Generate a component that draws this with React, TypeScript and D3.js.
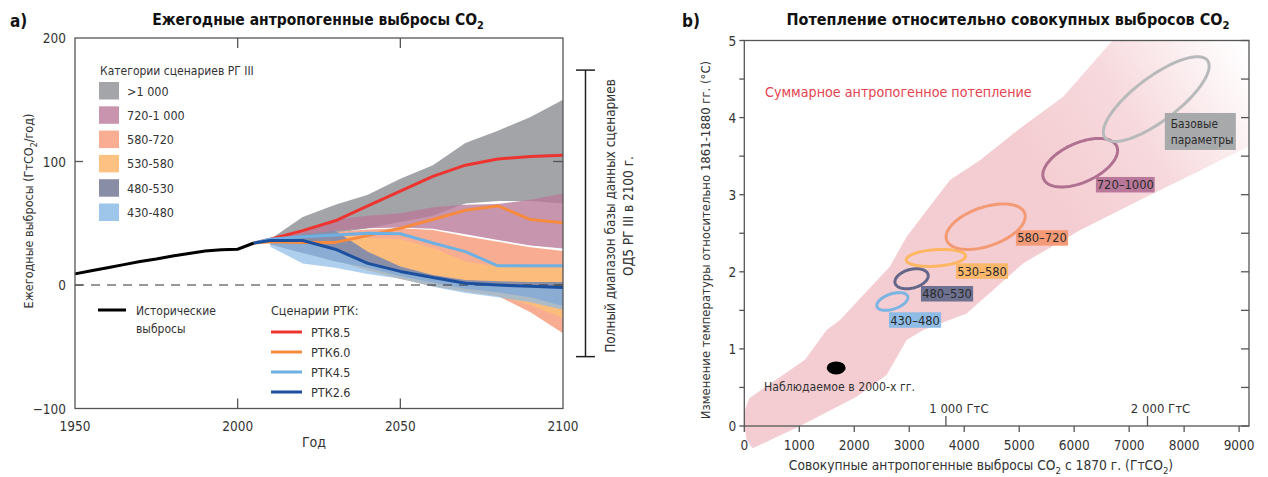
import React from "react";
import * as d3 from "d3";

const FONT = '"Liberation Sans Narrow", "DejaVu Sans Condensed", "Roboto Condensed", "Open Sans", Roboto, sans-serif';

// ---------- Panel a data ----------
const historyYears = [1950, 1955, 1960, 1965, 1970, 1975, 1980, 1985, 1990, 1995, 2000, 2005];
const historyValues = [9, 11.5, 14, 16.5, 19, 21, 23.5, 25.5, 27.5, 28.5, 29, 34];

const rcpYears = [2005, 2010, 2020, 2030, 2040, 2050, 2060, 2070, 2080, 2090, 2100];
const rcp85 = [34, 37, 44, 52, 64, 76, 88, 97, 102, 104, 105];
const rcp60 = [34, 35, 34.5, 34.5, 40, 46, 53, 60.5, 64, 53, 50.5];
const rcp45 = [34, 37, 39, 40.5, 42, 41.5, 34, 27, 15.5, 15.5, 15.5];
const rcp26 = [34, 36, 36, 29, 17.5, 11, 6, 1.5, 0, -1, -2];
const rcpLabels = ["РТК8.5", "РТК6.0", "РТК4.5", "РТК2.6"];

const bandYears = [2010, 2020, 2030, 2040, 2050, 2060, 2070, 2080, 2090, 2100];
const catLabels = [">1 000", "720-1 000", "580-720", "530-580", "480-530", "430-480"];
const cat1000Upper = [37, 55, 65, 73, 86, 97, 115, 125, 136, 150];
const cat1000Lower = [35, 38, 42, 46, 51, 56, 66, 68, 68, 66];
const cat720Upper = [36, 45, 53, 56, 58, 63, 65, 65.5, 69, 74];
const cat720Lower = [34, 40, 44, 46, 46.5, 45.5, 41, 36.5, 32, 29.5];
const cat580Upper = [35, 40, 43, 45, 46, 44.5, 39.5, 35, 30.5, 27.5];
const cat580Lower = [33, 26, 20, 12, 5, -1, -5, -9, -22, -39];
const cat530Upper = [35, 38, 41, 38, 37, 30, 19, 15, 14, 14];
const cat530Lower = [33, 26, 20, 12, 5, -1, -5, -9, -16, -27];
const cat480Upper = [35, 41, 44, 27, 15, 8, 4, 3, 2.5, 2.5];
const cat480Lower = [33, 26, 19, 14, 7, 2, -3, -6, -10, -17];
const cat430Upper = [35, 37, 30, 18, 11, 6, 1.5, 0, -1, -2];
const cat430Lower = [31, 17.5, 14, 9, 5, -1.5, -6.5, -10, -14, -20];

const rangeMin2100 = -58;
const rangeMax2100 = 174;

const yTicksA = [-100, 0, 100, 200];
const xTicksA = [1950, 2000, 2050, 2100];

// ---------- Panel b data ----------
const plumeUpperX = [91, 1104, 1498, 1740, 2649, 2952, 3740, 4274, 5013, 5800, 6649, 6700];
const plumeUpperY = [0.36, 0.86, 1.245, 1.375, 2.07, 2.455, 3.19, 3.44, 3.86, 4.27, 4.96, 5.0];
const plumeLowerX = [152, 1013, 2043, 2589, 2952, 3255, 4044, 5073, 6104, 7200, 8200, 9180];
const plumeLowerY = [-0.29, 0.0, 0.38, 0.66, 1.115, 1.245, 1.46, 2.11, 2.54, 2.93, 3.28, 3.63];
const plumeLeftX = [43, 0, 13];
const plumeLeftY = [-0.18, 0, 0.21];

const ellLabels = ["430–480", "480–530", "530–580", "580–720", "720–1000", "Базовые|параметры"];
const ellXMin = [2410, 2740, 2945, 3670, 5430, 6530];
const ellXMax = [2975, 3345, 4025, 5110, 6790, 8455];
const ellYMin = [1.5, 1.78, 2.07, 2.29, 3.1, 3.69];
const ellYMax = [1.73, 2.04, 2.29, 2.88, 3.73, 4.79];
const ellRho = [0.45, 0.3, 0.22, 0.45, 0.5, 0.78];
const ellLabelX = [2631, 3213, 3849, 4940, 6395, 7649];
const ellLabelY = [1.475, 1.816, 2.11, 2.54, 3.23, 4.06];

const observedX = 1671;
const observedY = 0.753;

const xTicksB = [0, 1000, 2000, 3000, 4000, 5000, 6000, 7000, 8000, 9000];
const yTicksB = [0, 0.5, 1, 1.5, 2, 2.5, 3, 3.5, 4, 4.5, 5];
const gtcTicks = [1000, 2000];
const gtcToGtco2 = 3.667;

// ---------- styles ----------
const bandColors = ["#a2a4a7", "#b97a98", "#f8ad92", "#fcbc7c", "#8b8ea7", "#8cbbe6"];
const bandOpacity = [1, 0.8, 1, 1, 1, 0.7];
const swatchColors = ["#a3a5a8", "#c994ad", "#f9ad92", "#fdc281", "#8a8da6", "#9ec5ea"];
const rcpColors = ["#ee3430", "#f68b3f", "#6fb0e2", "#1d4f9f"];
const ellStroke = ["#7cb4e2", "#636688", "#fdb762", "#f39a74", "#b07090", "#b7b9bb"];
const ellFill = ["#8ebce6", "#6e7190", "#fdb86c", "#f59a77", "#b9789a", "#a7a9ab"];

const xA = d3.scaleLinear().domain([1950, 2100]).range([75, 563]);
const yA = d3.scaleLinear().domain([-100, 200]).range([408.5, 38]);
const xB = d3.scaleLinear().domain([0, 9180]).range([744.3, 1249]);
const yB = d3.scaleLinear().domain([0, 5]).range([426, 40.5]);

function Sub({ children }: { children: string }) {
  return (
    <tspan dy={3.5} fontSize="70%">
      {children}
    </tspan>
  );
}

export default function App() {
  const uppers = [cat1000Upper, cat720Upper, cat580Upper, cat530Upper, cat480Upper, cat430Upper];
  const lowers = [cat1000Lower, cat720Lower, cat580Lower, cat530Lower, cat480Lower, cat430Lower];
  const area = (up: number[], lo: number[]) =>
    d3
      .area<number>()
      .x((_, i) => xA(bandYears[i]))
      .y0((_, i) => yA(lo[i]))
      .y1((_, i) => yA(up[i]))(bandYears) as string;

  const lineA = (xs: number[], ys: number[]) =>
    d3
      .line<number>()
      .x((_, i) => xA(xs[i]))
      .y((_, i) => yA(ys[i]))(xs) as string;

  const rcps = [rcp85, rcp60, rcp45, rcp26];

  const plumePts: [number, number][] = [];
  plumeUpperX.forEach((x, i) => plumePts.push([xB(x), yB(plumeUpperY[i])]));
  plumePts.push([xB(9180), yB(5)]);
  for (let i = plumeLowerX.length - 1; i >= 0; i--) plumePts.push([xB(plumeLowerX[i]), yB(plumeLowerY[i])]);
  plumeLeftX.forEach((x, i) => plumePts.push([xB(x), yB(plumeLeftY[i])]));
  const plumePath = d3.line().curve(d3.curveLinearClosed)(plumePts) as string;

  const ellPath = (i: number) => {
    const cx = (ellXMin[i] + ellXMax[i]) / 2;
    const cy = (ellYMin[i] + ellYMax[i]) / 2;
    const sx = (ellXMax[i] - ellXMin[i]) / 2;
    const sy = (ellYMax[i] - ellYMin[i]) / 2;
    const r = ellRho[i];
    const pts: [number, number][] = d3.range(0, 120).map((k) => {
      const t = (k / 120) * Math.PI * 2;
      return [xB(cx + sx * Math.cos(t)), yB(cy + sy * (r * Math.cos(t) + Math.sqrt(1 - r * r) * Math.sin(t)))];
    });
    return d3.line().curve(d3.curveLinearClosed)(pts) as string;
  };

  const axisColor = "#555";
  const txt = "#333";

  return (
    <svg
      width={1268}
      height={477}
      style={{ position: "absolute", left: 0, top: 0, background: "#fff" }}
      fontFamily={FONT}
    >
      <defs>
        <linearGradient id="plumeGrad" gradientUnits="userSpaceOnUse" x1={1050} y1={190} x2={1255} y2={65}>
          <stop offset="0" stopColor="#f4cdd2" stopOpacity={1} />
          <stop offset="0.45" stopColor="#f4cdd2" stopOpacity={0.75} />
          <stop offset="1" stopColor="#f4cdd2" stopOpacity={0} />
        </linearGradient>
      </defs>

      {/* ================= Panel a ================= */}
      <text x={10} y={27} fontSize={17} fontWeight="bold" fill="#111">a)</text>
      <text x={318} y={25} fontSize={15.5} fontWeight="bold" fill="#111" textAnchor="middle">
        Ежегодные антропогенные выбросы CO<Sub>2</Sub>
      </text>

      {bandColors.map((c, i) => (
        <path key={i} d={area(uppers[i], lowers[i])} fill={c} fillOpacity={bandOpacity[i]} />
      ))}

      <line x1={xA(1950)} x2={xA(2100)} y1={yA(0)} y2={yA(0)} stroke="#333" strokeWidth={1} strokeDasharray="9 7" />

      <path d={lineA(historyYears, historyValues)} fill="none" stroke="#000" strokeWidth={3} />
      {rcps.map((r, i) => (
        <path key={i} d={lineA(rcpYears, r)} fill="none" stroke={rcpColors[i]} strokeWidth={3} strokeLinejoin="round" />
      ))}

      <rect x={xA(1950)} y={yA(200)} width={xA(2100) - xA(1950)} height={yA(-100) - yA(200)} fill="none" stroke={axisColor} strokeWidth={1.3} />
      {[2000, 2050].map((t) => (
        <g key={t}>
          <line x1={xA(t)} x2={xA(t)} y1={yA(200)} y2={yA(200) + 10} stroke={axisColor} strokeWidth={1.3} />
          <line x1={xA(t)} x2={xA(t)} y1={yA(-100)} y2={yA(-100) - 10} stroke={axisColor} strokeWidth={1.3} />
        </g>
      ))}
      {[0, 100].map((t) => (
        <g key={t}>
          <line x1={xA(1950)} x2={xA(1950) + 8} y1={yA(t)} y2={yA(t)} stroke={axisColor} strokeWidth={1.3} />
          <line x1={xA(2100)} x2={xA(2100) - 10} y1={yA(t)} y2={yA(t)} stroke={axisColor} strokeWidth={1.3} />
        </g>
      ))}
      {yTicksA.map((t) => (
        <text key={t} x={xA(1950) - 9} y={yA(t) + 5} fontSize={13.5} fill={txt} textAnchor="end">
          {t < 0 ? "\u2212" + Math.abs(t) : t}
        </text>
      ))}
      {xTicksA.map((t) => (
        <text key={t} x={xA(t)} y={431} fontSize={13.5} fill={txt} textAnchor="middle">
          {t}
        </text>
      ))}
      <text x={314} y={447} fontSize={14} fill={txt} textAnchor="middle">Год</text>
      <text transform="translate(33,211) rotate(-90)" fontSize={12.5} fill={txt} textAnchor="middle">
        Ежегодные выбросы (ГтCO<Sub>2</Sub>
        <tspan dy={-3.5}>/год)</tspan>
      </text>

      {/* legend categories */}
      <text x={100} y={75} fontSize={12} fill={txt}>Категории сценариев РГ III</text>
      {catLabels.map((l, i) => (
        <g key={l}>
          <rect x={99} y={82 + i * 24.3} width={20} height={17.5} fill={swatchColors[i]} />
          <text x={127} y={95.5 + i * 24.3} fontSize={12.5} fill={txt}>{l}</text>
        </g>
      ))}

      {/* legend lines */}
      <line x1={98} x2={126} y1={310} y2={310} stroke="#000" strokeWidth={3} />
      <text x={136} y={314.5} fontSize={12} fill={txt}>Исторические</text>
      <text x={136} y={332.5} fontSize={12} fill={txt}>выбросы</text>
      <text x={271} y={315} fontSize={12.5} fill={txt}>Сценарии РТК:</text>
      {rcpLabels.map((l, i) => (
        <g key={l}>
          <line x1={271} x2={302} y1={332 + i * 20} y2={332 + i * 20} stroke={rcpColors[i]} strokeWidth={3} />
          <text x={311} y={336.5 + i * 20} fontSize={12.5} fill={txt}>{l}</text>
        </g>
      ))}

      {/* range bar */}
      <line x1={585.5} x2={585.5} y1={yA(rangeMax2100)} y2={yA(rangeMin2100)} stroke="#222" strokeWidth={1.5} />
      <line x1={576} x2={595} y1={yA(rangeMax2100)} y2={yA(rangeMax2100)} stroke="#222" strokeWidth={1.5} />
      <line x1={576} x2={595} y1={yA(rangeMin2100)} y2={yA(rangeMin2100)} stroke="#222" strokeWidth={1.5} />
      <text transform="translate(615,216) rotate(-90)" fontSize={13.5} fill={txt} textAnchor="middle">
        Полный диапазон базы данных сценариев
      </text>
      <text transform="translate(633,216) rotate(-90)" fontSize={13.5} fill={txt} textAnchor="middle">
        ОД5 РГ III в 2100 г.
      </text>

      {/* ================= Panel b ================= */}
      <text x={682} y={27} fontSize={17} fontWeight="bold" fill="#111">b)</text>
      <text x={1008} y={25} fontSize={16} fontWeight="bold" fill="#111" textAnchor="middle">
        Потепление относительно совокупных выбросов CO<Sub>2</Sub>
      </text>

      <path d={plumePath} fill="url(#plumeGrad)" />

      <text x={765} y={97} fontSize={14.2} fill="#e4434f">Суммарное антропогенное потепление</text>

      {ellLabels.map((_, i) => (
        <path key={i} d={ellPath(i)} fill="none" stroke={ellStroke[i]} strokeWidth={3} />
      ))}
      {ellLabels.map((l, i) => {
        const lines = l.split("|");
        const multi = lines.length > 1;
        const n = Math.max(...lines.map((s) => s.length));
        const w = multi ? 71 : n * 6.6 + 6;
        const h = multi ? 37 : 15.5;
        const bx = xB(ellLabelX[i]);
        const by = yB(ellLabelY[i]);
        return (
          <g key={l}>
            <rect x={bx} y={by} width={w} height={h} fill={ellFill[i]} />
            {lines.map((s, k) => (
              <text
                key={k}
                x={multi ? bx + 6 : bx + w / 2}
                y={multi ? by + 15 + k * 16 : by + 12.3}
                fontSize={multi ? 11.8 : 12.8}
                fill="#2b2b2b"
                textAnchor={multi ? "start" : "middle"}
              >
                {s}
              </text>
            ))}
          </g>
        );
      })}

      <ellipse cx={xB(observedX)} cy={yB(observedY)} rx={9.5} ry={6.5} fill="#000" />
      <text x={764} y={391} fontSize={12.2} fill={txt}>Наблюдаемое в 2000-х гг.</text>

      <rect x={xB(0)} y={yB(5)} width={xB(9180) - xB(0)} height={yB(0) - yB(5)} fill="none" stroke={axisColor} strokeWidth={1.3} />
      {yTicksB.map((t) => (
        <g key={t}>
          <line x1={xB(0) - 5} x2={xB(0)} y1={yB(t)} y2={yB(t)} stroke={axisColor} strokeWidth={1.3} />
          <line x1={xB(9180)} x2={xB(9180) - 8} y1={yB(t)} y2={yB(t)} stroke={axisColor} strokeWidth={1.3} />
        </g>
      ))}
      {yTicksB.filter((t) => Number.isInteger(t)).map((t) => (
        <text key={t} x={xB(0) - 8} y={yB(t) + 5} fontSize={13.5} fill={txt} textAnchor="end">{t}</text>
      ))}
      {xTicksB.map((t) => (
        <g key={t}>
          <line x1={xB(t)} x2={xB(t)} y1={yB(0)} y2={yB(0) + 6} stroke={axisColor} strokeWidth={1.3} />
          <text x={xB(t)} y={450} fontSize={13.5} fill={txt} textAnchor="middle">{t}</text>
        </g>
      ))}
      {gtcTicks.map((t) => (
        <g key={t}>
          <line x1={xB(t * gtcToGtco2)} x2={xB(t * gtcToGtco2)} y1={yB(0)} y2={yB(0) - 10} stroke={axisColor} strokeWidth={1.3} />
          <text x={xB(t * gtcToGtco2) + 13} y={413} fontSize={13} fill={txt} textAnchor="middle">
            {d3.format(",")(t).replace(",", " ")} ГтC
          </text>
        </g>
      ))}
      <text x={981} y={470} fontSize={13.7} fill={txt} textAnchor="middle">
        Совокупные антропогенные выбросы CO<Sub>2</Sub>
        <tspan dy={-3.5}> с 1870 г. (ГтCO</tspan>
        <Sub>2</Sub>
        <tspan dy={-3.5}>)</tspan>
      </text>
      <text transform="translate(710,240) rotate(-90)" fontSize={13} fill={txt} textAnchor="middle">
        Изменение температуры относительно 1861-1880 гг. (°C)
      </text>
    </svg>
  );
}
